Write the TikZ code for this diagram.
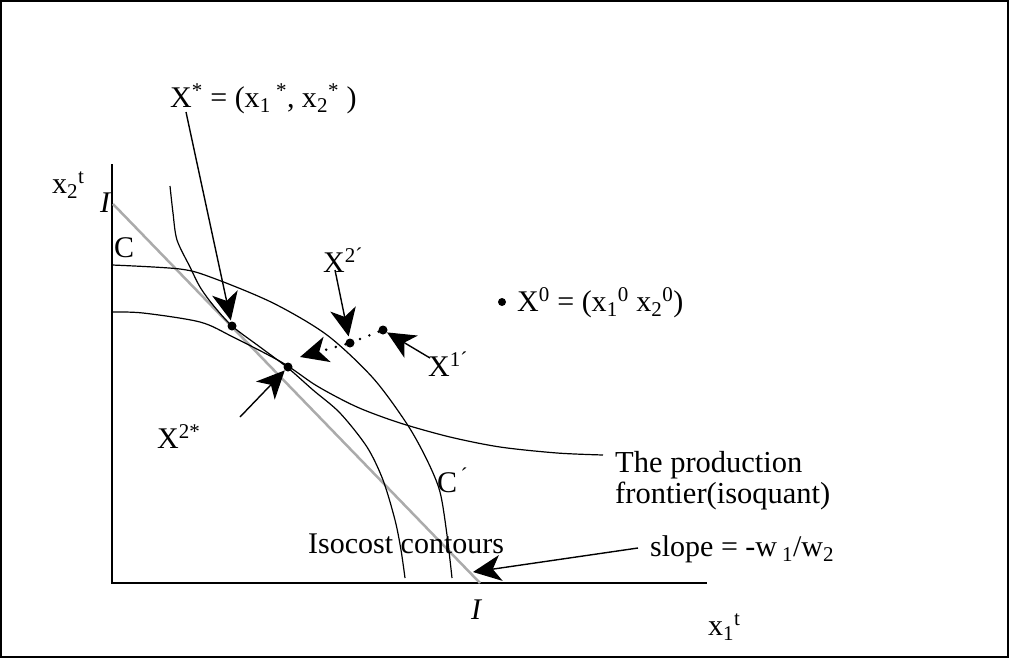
\documentclass[tikz,border=0pt]{standalone}
\usepackage{fontspec}
\setmainfont{Liberation Serif}
\usetikzlibrary{arrows.meta}
\begin{document}
\begin{tikzpicture}[x=1pt,y=-1pt,
  lbl/.style={inner sep=0pt, anchor=base west, font=\fontsize{30}{31}\selectfont},
  curve/.style={line width=1.2pt, line join=round},
  axis/.style={line width=1.6pt},
  dot/.style={circle, fill=black, inner sep=0pt, minimum size=9pt},
  bigtip/.tip={Stealth[length=28pt,width=26pt,inset=8pt]},
  arr/.style={line width=1.4pt, -bigtip},
  dotline/.style={line width=2.8pt, line cap=round, dash pattern=on 0pt off 10pt, -bigtip},
  isocost/.style={line width=2.5pt, color=black!33},
]
\useasboundingbox (0,0) rectangle (1010,659);
\draw[line width=2.2pt] (1,1) rectangle (1008,657);

% axes
\coordinate (O) at (112,583);
\coordinate (Ytop) at (112,164);
\coordinate (Xend) at (707,583);
\draw[axis] (Ytop) -- (O) -- (Xend);

% isocost line I--I
\coordinate (Itop) at (113,204);
\coordinate (Ibot) at (480,583);
\draw[isocost] (Itop) -- (Ibot);

% curve C -- C'
\draw[curve] plot[smooth, tension=0.5] coordinates {(112,265) (180,269) (213,278) (273,303) (327,335) (373,378) (407,424) (427,460) (440,492) (447,535) (452,578)};
% production frontier
\draw[curve] plot[smooth, tension=0.5] coordinates {(112,312) (143,313) (200,322) (233,337) (283,363) (317,386) (357,407) (400,423) (450,437) (500,447) (557,453) (603,455)};
% inner contour
\draw[curve] plot[smooth, tension=0.5] coordinates {(170,186) (173,213) (177,240) (190,267) (200,287) (213,305) (232,326) (260,347) (288,368) (313,390) (340,413) (367,447) (383,480) (395,520) (401,550) (405,578)};

% points
\node[dot] (Xs) at (232,326) {};
\node[dot] (X2s) at (288,367) {};
\node[dot] (X2p) at (350,343) {};
\node[dot] (X1p) at (383,330) {};
\node[dot, minimum size=8pt] (X0) at (502,302) {};

% labels
\node[lbl] (LXs) at (170,107) {X\textsuperscript{*} = (x\textsubscript{1}\textsuperscript{ *}, x\textsubscript{2}\textsuperscript{*} )};
\node[lbl] (LX2p) at (323,272) {X\textsuperscript{2´}};
\node[lbl] (LX0) at (517,311) {X\textsuperscript{0} = (x\textsubscript{1}\textsuperscript{0} x\textsubscript{2}\textsuperscript{0})};
\node[lbl] (LX1p) at (428,376) {X\textsuperscript{1´}};
\node[lbl] (LX2s) at (157,448) {X\textsuperscript{2*}};
\node[lbl] (LCp) at (437,492) {C\textsuperscript{\,´}};
\node[lbl] (LC) at (114,257) {C};
\node[lbl] (LItop) at (100,212) {\textit{I}};
\node[lbl] (LIbot) at (471,619) {\textit{I}};
\node[lbl] (Lx2) at (52,193) {x\textsubscript{2}\textsuperscript{t}};
\node[lbl] (Lx1) at (708,635) {x\textsubscript{1}\textsuperscript{t}};
\node[lbl] (Liso) at (308,553) {Isocost contours};
\node[lbl] (Lslope) at (650,556) {slope = -w\,\textsubscript{1}/w\textsubscript{2}};
\node[inner sep=0pt, anchor=north west, align=left, font=\fontsize{30.5}{31}\selectfont] (Lprod) at (615,451) {The production\\frontier(isoquant)};

% arrows
\coordinate (tXs) at (186,112);
\coordinate (tX2p) at (335,270);
\coordinate (tX1p) at (430,358);
\coordinate (tX2s) at (240,417);
\coordinate (tslope) at (638,548);
\coordinate (hslope) at (473,572);
\coordinate (hdot) at (300,357);
\draw[arr, shorten >=1pt] (tXs) -- (Xs);
\draw[arr, shorten >=2pt] (tX2p) -- (X2p);
\draw[arr] (tX1p) -- (X1p);
\draw[arr] (tX2s) -- (X2s);
\draw[arr] (tslope) -- (hslope);
\draw[dotline] (X1p) -- (X2p) -- (hdot);
\end{tikzpicture}
\end{document}
